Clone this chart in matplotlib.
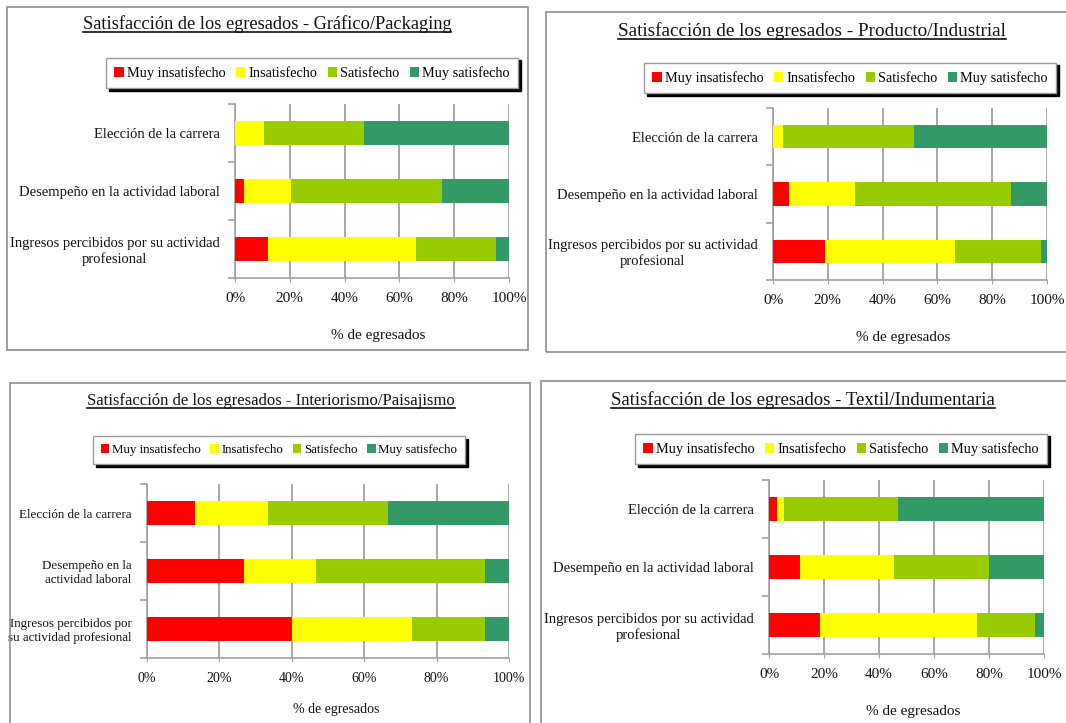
import numpy as np
import matplotlib
matplotlib.use("Agg")
import matplotlib.pyplot as plt
from matplotlib.patches import Rectangle
from matplotlib.lines import Line2D
from matplotlib.ticker import FixedLocator, FuncFormatter

plt.rcParams['font.family'] = ['Liberation Serif', 'DejaVu Serif']

# ---------------------------------------------------------------------
# Data (% of graduates per answer)
# ---------------------------------------------------------------------
series_names = ["Muy insatisfecho", "Insatisfecho", "Satisfecho", "Muy satisfecho"]
series_colors = ["#FF0000", "#FFFF00", "#99CC00", "#339966"]

cats_wide = ["Elección de la carrera",
             "Desempeño en la actividad laboral",
             "Ingresos percibidos por su actividad\nprofesional"]
cats_narrow = ["Elección de la carrera",
               "Desempeño en la\nactividad laboral",
               "Ingresos percibidos por\nsu actividad profesional"]

grafico_muy_insat = [0.0, 3.3, 12.0]
grafico_insat = [10.6, 17.1, 53.9]
grafico_sat = [36.4, 55.3, 29.2]
grafico_muy_sat = [53.0, 24.3, 4.9]

producto_muy_insat = [0.0, 5.7, 18.9]
producto_insat = [3.5, 24.1, 47.4]
producto_sat = [47.8, 56.9, 31.4]
producto_muy_sat = [48.7, 13.3, 2.3]

interior_muy_insat = [13.3, 26.7, 40.0]
interior_insat = [20.0, 20.0, 33.3]
interior_sat = [33.3, 46.7, 20.0]
interior_muy_sat = [33.3, 6.7, 6.7]

textil_muy_insat = [2.8, 11.2, 18.5]
textil_insat = [2.5, 34.2, 57.2]
textil_sat = [41.6, 34.7, 21.1]
textil_muy_sat = [53.1, 19.9, 3.2]

x_ticks = [0, 20, 40, 60, 80, 100]
x_label = "% de egresados"

# ---------------------------------------------------------------------
# Figure, everything laid out in pixels
# ---------------------------------------------------------------------
W, H = 1066, 723
fig = plt.figure(figsize=(W / 100, H / 100), dpi=100)
fig.patch.set_facecolor("white")


def fx(x):
    return x / W


def fy(y):
    return 1 - y / H


def panel(border, title, title_xy, title_fs, legend_xy, legend_fs,
          ax_box, cats, cat_fs, cat_align, values, xlabel_xy, tick_fs):
    bx0, by0, bx1, by1 = border
    fig.add_artist(Rectangle((fx(bx0), fy(by1)), fx(bx1 - bx0), (by1 - by0) / H,
                             transform=fig.transFigure, fill=False,
                             edgecolor="#8c8c8c", linewidth=1.2))

    t = fig.text(fx(title_xy[0]), fy(title_xy[1]), title, fontsize=title_fs,
                 ha="center", va="center", color="#111111")

    x0, y0, x1, y1 = ax_box
    ax = fig.add_axes([fx(x0), fy(y1), fx(x1 - x0), (y1 - y0) / H])
    ypos = np.arange(len(cats))
    left = np.zeros(len(cats))
    handles = []
    for name, col, vals in zip(series_names, series_colors, values):
        b = ax.barh(ypos, vals, left=left, height=0.41, color=col,
                    label=name, zorder=3)
        left = left + np.array(vals)
        handles.append(b)

    ax.set_xlim(0, 100)
    ax.set_ylim(len(cats) - 0.5, -0.5)
    ax.xaxis.set_major_locator(FixedLocator(x_ticks))
    ax.xaxis.set_major_formatter(FuncFormatter(lambda v, p: f"{v:.0f}%"))
    ax.grid(axis="x", color="#8f8f8f", linewidth=1.1, zorder=0)
    for s in ["top", "right"]:
        ax.spines[s].set_visible(False)
    for s in ["left", "bottom"]:
        ax.spines[s].set_color("#a0a0a0")
        ax.spines[s].set_linewidth(1.2)
    ax.tick_params(axis="x", length=3, color="#a0a0a0", labelsize=tick_fs,
                   pad=7, labelcolor="#111111")
    ax.set_yticks(ypos)
    ax.set_yticklabels(cats, fontsize=cat_fs, color="#111111",
                       multialignment=cat_align)
    ax.tick_params(axis="y", which="major", length=0, pad=11)
    ax.set_yticks(np.arange(len(cats) + 1) - 0.5, minor=True)
    ax.tick_params(axis="y", which="minor", length=5, color="#a0a0a0", width=1.2)

    fig.text(fx(xlabel_xy[0]), fy(xlabel_xy[1]), x_label, fontsize=tick_fs,
             ha="center", va="center", color="#111111")

    leg = fig.legend(handles=handles, loc="center",
                     bbox_to_anchor=(fx(legend_xy[0]), fy(legend_xy[1])),
                     ncol=4, fontsize=legend_fs, frameon=True, fancybox=False,
                     handlelength=0.65, handleheight=0.65, handletextpad=0.2,
                     columnspacing=0.75, borderpad=0.6, borderaxespad=0,
                     edgecolor="#9a9a9a",
                     shadow={"facecolor": "black", "edgecolor": "black",
                             "alpha": 1.0})
    leg.get_frame().set_linewidth(1.0)
    return t


titles = []
titles.append(panel((7, 7, 528, 350),
                    "Satisfacción de los egresados - Gráfico/Packaging",
                    (267, 24), 13.2, (312, 73), 10.3,
                    (235, 104, 509, 278), cats_wide, 10.5, "center",
                    [grafico_muy_insat, grafico_insat, grafico_sat, grafico_muy_sat],
                    (378, 335), 11))
titles.append(panel((546, 12, 1070, 352),
                    "Satisfacción de los egresados - Producto/Industrial",
                    (812, 31), 13.8, (850, 78), 10.3,
                    (773, 108, 1047, 280), cats_wide, 10.5, "center",
                    [producto_muy_insat, producto_insat, producto_sat, producto_muy_sat],
                    (903, 337), 11))
titles.append(panel((10, 383, 530, 730),
                    "Satisfacción de los egresados - Interiorismo/Paisajismo",
                    (271, 401), 12, (279, 450), 9.3,
                    (147, 484, 509, 658), cats_narrow, 9.4, "right",
                    [interior_muy_insat, interior_insat, interior_sat, interior_muy_sat],
                    (336, 710), 10))
titles.append(panel((541, 381, 1070, 730),
                    "Satisfacción de los egresados - Textil/Indumentaria",
                    (803, 400), 13.5, (841, 449), 10.3,
                    (769, 480, 1044, 654), cats_wide, 10.5, "center",
                    [textil_muy_insat, textil_insat, textil_sat, textil_muy_sat],
                    (913, 712), 11))

# underline the titles
fig.canvas.draw()
renderer = fig.canvas.get_renderer()
for t in titles:
    bb = t.get_window_extent(renderer)
    yline = bb.y0 + 1
    fig.add_artist(Line2D([bb.x0 / W, bb.x1 / W], [yline / H, yline / H],
                          transform=fig.transFigure, color="#111111",
                          linewidth=1.2))

fig.savefig("out.png", dpi=100)
